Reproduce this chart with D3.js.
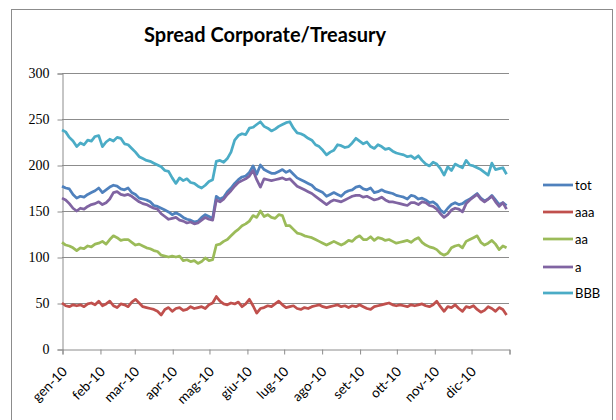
<!DOCTYPE html>
<html>
<head>
<meta charset="utf-8">
<script src="https://cdn.jsdelivr.net/npm/d3@7"></script>
<style>
  html, body { margin: 0; padding: 0; background: #fff; }
  svg { display: block; }
</style>
</head>
<body>
<svg id="chart" width="616" height="420"></svg>
<script>
// Spread corporate/treasury by rating class, 2010 (basis points), sampled every 3 days
const startDate = new Date(2010, 0, 1);
const stepDays = 3;

const monthLabels = ["gen-10","feb-10","mar-10","apr-10","mag-10","giu-10",
                     "lug-10","ago-10","set-10","ott-10","nov-10","dic-10"];
const yTicks = [0, 50, 100, 150, 200, 250, 300];

const seriesNames = ["tot", "aaa", "aa", "a", "BBB"];
const seriesColors = ["#4F81BD", "#C0504D", "#9BBB59", "#8064A2", "#4BACC6"];

const tot = [177,175,174,168,164,166,165,168,170,172,175,170,173,176,178,177,174,173,175,170,
  168,164,163,162,160,156,155,153,151,149,146,148,146,143,141,140,138,139,143,146,
  144,142,166,163,165,171,175,180,184,187,188,192,199,190,200,195,193,191,191,193,
  195,192,194,190,186,184,182,180,178,174,172,170,166,168,170,168,166,170,172,173,
  176,177,174,173,175,170,171,173,171,170,169,167,166,165,163,167,166,163,164,162,
  159,160,157,151,148,153,157,159,157,158,161,163,166,169,164,161,163,167,162,157,
  159,156];

const aaa = [50,47,46,48,47,48,46,49,50,48,52,47,49,52,47,45,49,48,46,51,
  54,50,46,45,44,43,41,37,43,45,41,44,45,42,43,46,44,45,46,44,
  48,50,57,52,49,48,50,49,51,46,49,54,47,39,44,45,47,46,49,52,
  48,45,46,47,44,43,45,44,46,47,48,46,45,46,47,48,46,47,45,47,
  46,48,46,44,43,46,47,48,49,50,48,47,48,47,46,48,47,48,49,47,
  46,48,52,46,41,46,45,48,44,41,46,45,47,43,40,42,46,44,41,45,
  43,37];

const aa = [116,113,112,110,107,110,109,112,111,114,115,117,114,119,123,121,118,119,119,116,
  113,114,112,110,109,107,106,102,101,100,101,100,101,96,97,95,96,93,95,99,
  96,97,113,114,117,119,123,127,130,134,136,139,145,143,150,144,146,143,142,146,
  145,134,134,130,126,125,123,122,121,119,117,115,113,115,117,115,113,115,118,117,
  121,123,119,119,122,118,121,120,118,119,117,115,116,117,118,116,119,121,116,113,
  111,110,108,104,102,104,110,112,113,110,117,119,121,123,116,113,115,118,114,108,
  112,110];

const a = [164,162,158,153,150,153,152,155,157,158,160,157,159,163,170,171,168,167,168,166,
  163,160,158,157,155,153,152,147,144,141,142,143,140,139,137,138,136,137,140,143,
  141,140,162,160,163,168,172,177,181,183,185,188,194,184,176,185,184,183,184,185,
  186,184,185,181,177,175,173,171,169,166,163,160,157,160,162,161,160,162,164,166,
  167,167,165,166,164,162,163,165,162,160,160,159,158,157,156,159,159,157,160,159,
  156,155,152,147,143,146,151,153,152,149,158,162,165,168,163,160,163,166,160,155,
  159,152];

const BBB = [238,236,230,226,220,224,222,227,226,231,232,220,225,228,226,230,229,223,222,218,
  214,209,207,205,204,202,200,198,194,193,186,180,186,183,185,181,180,177,175,178,
  182,184,204,205,203,207,214,227,232,234,233,240,241,244,247,242,240,237,239,242,
  244,246,247,240,235,234,232,229,227,222,220,216,211,214,216,222,221,219,220,224,
  229,226,223,225,220,218,222,220,217,218,215,213,212,211,209,210,207,210,205,201,
  199,203,201,196,189,198,194,201,199,197,205,200,199,197,195,192,189,202,195,196,
  197,190];

const seriesValues = [tot, aaa, aa, a, BBB];
const dates = tot.map((_, i) => d3.timeDay.offset(startDate, i * stepDays));

const svg = d3.select("#chart");

// chart frame
svg.append("rect")
  .attr("x", 11.5).attr("y", 9.5)
  .attr("width", 601).attr("height", 414)
  .attr("fill", "#fff").attr("stroke", "#8c8c8c").attr("stroke-width", 1);

// title
svg.append("text")
  .attr("x", 265).attr("y", 42)
  .attr("text-anchor", "middle")
  .attr("font-family", "Lato, 'Open Sans', sans-serif")
  .attr("font-weight", "bold")
  .attr("font-size", 20)
  .attr("fill", "#000")
  .text("Spread Corporate/Treasury");

const plot = { left: 62, right: 509, top: 73, bottom: 349 };

const x = d3.scaleTime()
  .domain([new Date(2010, 0, 1), new Date(2011, 0, 1)])
  .range([plot.left, plot.right]);

const y = d3.scaleLinear()
  .domain([0, 300])
  .range([plot.bottom, plot.top]);

// horizontal gridlines
svg.append("g")
  .selectAll("line")
  .data(yTicks.filter(v => v > 0))
  .join("line")
  .attr("x1", plot.left).attr("x2", plot.right)
  .attr("y1", d => Math.round(y(d)) + 0.5).attr("y2", d => Math.round(y(d)) + 0.5)
  .attr("stroke", "#8c8c8c").attr("stroke-width", 1);

// y axis
const yAxis = svg.append("g")
  .attr("transform", `translate(${plot.left + 0.5},0.5)`)
  .call(d3.axisLeft(y).tickValues(yTicks).tickSize(5).tickPadding(8).tickFormat(d3.format("d")));
yAxis.select(".domain").attr("stroke", "#8c8c8c");
yAxis.selectAll(".tick line").attr("stroke", "#8c8c8c");
yAxis.selectAll(".tick text")
  .attr("font-family", "'Liberation Serif', 'Times New Roman', serif")
  .attr("font-size", 14)
  .attr("fill", "#000");

// x axis with month ticks
const monthTicks = d3.timeMonth.range(new Date(2010, 0, 1), new Date(2011, 0, 2));
const xAxis = svg.append("g")
  .attr("transform", `translate(0.5,${plot.bottom + 0.5})`)
  .call(d3.axisBottom(x).tickValues(monthTicks).tickSize(5)
    .tickFormat((d, i) => i < monthLabels.length ? monthLabels[i] : ""));
xAxis.select(".domain").attr("stroke", "#8c8c8c");
xAxis.selectAll(".tick line").attr("stroke", "#8c8c8c");
xAxis.selectAll(".tick text")
  .attr("font-family", "Lato, 'Open Sans', sans-serif")
  .attr("font-size", 13.5)
  .attr("fill", "#000")
  .attr("text-anchor", "end")
  .attr("x", 0).attr("y", 0).attr("dy", "0")
  .attr("transform", "translate(5,23) rotate(-45)");

// series lines
const line = d3.line()
  .x((d, i) => x(dates[i]))
  .y(d => y(d));

svg.append("g")
  .selectAll("path")
  .data(seriesValues)
  .join("path")
  .attr("d", d => line(d))
  .attr("fill", "none")
  .attr("stroke", (d, i) => seriesColors[i])
  .attr("stroke-width", 2.75)
  .attr("stroke-linejoin", "round");

// legend
const legend = svg.append("g");
const legendY = [185, 212, 239, 267, 293];
seriesNames.forEach((name, i) => {
  legend.append("line")
    .attr("x1", 543).attr("x2", 573)
    .attr("y1", legendY[i]).attr("y2", legendY[i])
    .attr("stroke", seriesColors[i]).attr("stroke-width", 2.75);
  legend.append("text")
    .attr("x", 575).attr("y", legendY[i] + 4.5)
    .attr("font-family", "Lato, 'Open Sans', sans-serif")
    .attr("font-size", 13)
    .attr("fill", "#000")
    .text(name);
});
</script>
</body>
</html>
